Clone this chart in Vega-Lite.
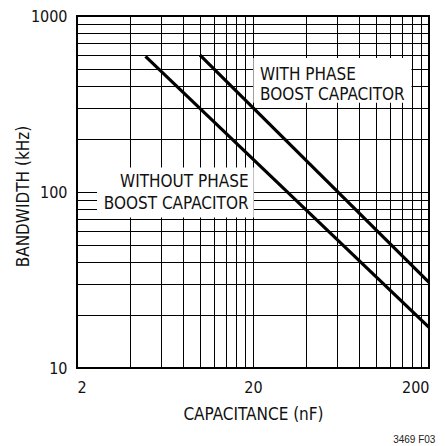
{
  "$schema": "https://vega.github.io/schema/vega-lite/v6.json",
  "width": 352,
  "height": 352,
  "autosize": {"type": "none"},
  "padding": {"left": 77, "top": 16, "right": 16, "bottom": 78},
  "background": "white",
  "config": {
    "view": {"stroke": "black", "strokeWidth": 2},
    "font": "DejaVu Sans Condensed, Liberation Sans",
    "axis": {
      "domain": false,
      "ticks": false,
      "grid": true,
      "gridColor": "black",
      "gridWidth": 1,
      "gridOpacity": 1,
      "labelFont": "DejaVu Sans Condensed, Liberation Sans",
      "labelFontSize": 16,
      "labelColor": "#111",
      "labelOverlap": false,
      "titleFont": "DejaVu Sans Condensed, Liberation Sans",
      "titleFontSize": 17,
      "titleFontWeight": "normal",
      "titleColor": "#111"
    }
  },
  "title": {
    "text": "3469 F03",
    "orient": "bottom",
    "anchor": "end",
    "font": "Liberation Sans",
    "fontSize": 10,
    "fontWeight": "normal",
    "color": "#222",
    "offset": 12
  },
  "datasets": {
    "curves": [
      {"series": "without", "c": 4.9, "bw": 590},
      {"series": "without", "c": 200, "bw": 17},
      {"series": "with", "c": 10, "bw": 600},
      {"series": "with", "c": 200, "bw": 30.7}
    ],
    "boxes": [
      {"box": "with", "c": 20.1, "c2": 159, "bw": 577, "bw2": 321},
      {"box": "without", "c": 2.6, "c2": 20.2, "bw": 137.8, "bw2": 71.6}
    ],
    "notes": [
      {"box": "with", "text": "WITH PHASE", "c": 21.9, "bw": 433},
      {"box": "with", "text": "BOOST CAPACITOR", "c": 21.9, "bw": 333.6},
      {"box": "without", "text": "WITHOUT PHASE", "c": 18.87, "bw": 106.3},
      {"box": "without", "text": "BOOST CAPACITOR", "c": 18.87, "bw": 79.7}
    ]
  },
  "layer": [
    {
      "data": {"name": "boxes"},
      "mark": {"type": "rect", "fill": "white", "stroke": null},
      "encoding": {
        "x": {
          "field": "c",
          "type": "quantitative",
          "scale": {"type": "log", "domain": [2, 200], "nice": false},
          "axis": {
            "title": "CAPACITANCE (nF)",
            "values": [2, 4, 6, 8, 10, 12, 14, 16, 18, 20, 40, 60, 80, 100, 120, 140, 160, 180, 200],
            "labelExpr": "(datum.value == 2 || datum.value == 20 || datum.value == 200) ? datum.label : ''",
            "format": "d",
            "labelPadding": 11,
            "titleBaseline": "alphabetic",
            "titleY": 51.5
          }
        },
        "x2": {"field": "c2"},
        "y": {
          "field": "bw",
          "type": "quantitative",
          "scale": {"type": "log", "domain": [10, 1000], "nice": false},
          "axis": {
            "title": "BANDWIDTH (kHz)",
            "values": [10, 20, 30, 40, 50, 60, 70, 80, 90, 100, 200, 300, 400, 500, 600, 700, 800, 900, 1000],
            "labelExpr": "(datum.value == 10 || datum.value == 100 || datum.value == 1000) ? datum.label : ''",
            "format": "d",
            "labelPadding": 10,
            "titleBaseline": "alphabetic",
            "titleX": -48.5,
            "titleY": 180
          }
        },
        "y2": {"field": "bw2"}
      }
    },
    {
      "data": {"name": "notes"},
      "transform": [{"filter": "datum.box == 'with'"}],
      "mark": {"type": "text", "align": "left", "baseline": "alphabetic", "fontSize": 17, "font": "DejaVu Sans Condensed, Liberation Sans", "color": "#111"},
      "encoding": {
        "x": {"field": "c", "type": "quantitative"},
        "y": {"field": "bw", "type": "quantitative"},
        "text": {"field": "text"}
      }
    },
    {
      "data": {"name": "notes"},
      "transform": [{"filter": "datum.box == 'without'"}],
      "mark": {"type": "text", "align": "right", "baseline": "alphabetic", "fontSize": 17, "font": "DejaVu Sans Condensed, Liberation Sans", "color": "#111"},
      "encoding": {
        "x": {"field": "c", "type": "quantitative"},
        "y": {"field": "bw", "type": "quantitative"},
        "text": {"field": "text"}
      }
    },
    {
      "data": {"name": "curves"},
      "mark": {"type": "line", "color": "black", "strokeWidth": 3.2, "strokeCap": "butt"},
      "encoding": {
        "x": {"field": "c", "type": "quantitative"},
        "y": {"field": "bw", "type": "quantitative"},
        "detail": {"field": "series"}
      }
    }
  ]
}
